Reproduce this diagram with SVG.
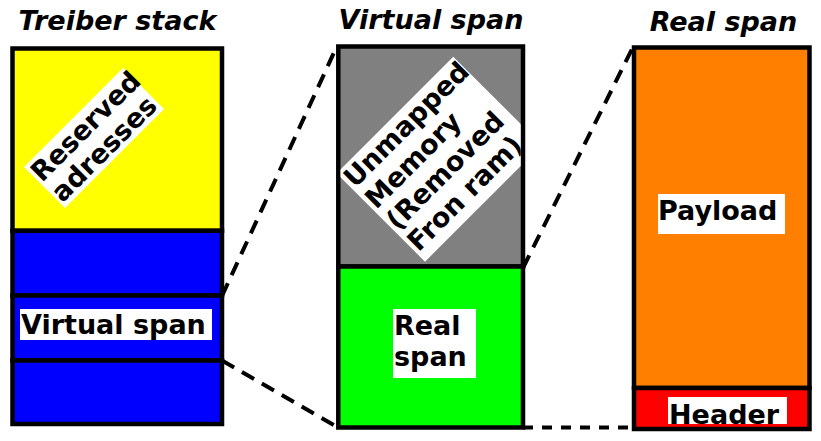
<svg xmlns="http://www.w3.org/2000/svg" width="821" height="441" viewBox="0 0 821 441">
  <style>
    .box { stroke: #000; stroke-width: 4.5; }
    .title { font-family: "DejaVu Sans", sans-serif; font-weight: bold; font-style: oblique; font-size: 27px; fill: #000; text-anchor: middle; }
    .lbl { font-family: "DejaVu Sans", sans-serif; font-weight: bold; font-size: 27px; fill: #000; }
    .bg { fill: #fff; }
    .dash { fill: none; stroke: #000; stroke-width: 4; stroke-dasharray: 14 9; }
    .dash-h { fill: none; stroke: #000; stroke-width: 4; stroke-dasharray: 10 9; }
  </style>
  <defs>
    <clipPath id="clipGray">
      <rect x="340.5" y="48.7" width="180.2" height="215.6"/>
    </clipPath>
  </defs>
  <rect width="821" height="441" fill="#fff"/>

  <g id="titles">
    <text class="title" x="117.5" y="30">Treiber stack</text>
    <text class="title" x="431" y="29">Virtual span</text>
    <text class="title" x="723.5" y="31">Real span</text>
  </g>

  <g id="treiber-stack">
    <rect class="box" x="12.5" y="48.5" width="209.5" height="182.3" fill="#ffff00"/>
    <rect class="box" x="12.5" y="230.8" width="209.5" height="64.7" fill="#0000ff"/>
    <rect class="box" x="12.5" y="295.5" width="209.5" height="65" fill="#0000ff"/>
    <rect class="box" x="12.5" y="360.5" width="209.5" height="63.5" fill="#0000ff"/>
    <g id="reserved-label" transform="translate(24,167) rotate(-45)">
      <rect class="bg" x="0" y="0" width="140" height="58"/>
      <text class="lbl" x="1.5" y="24">Reserved</text>
      <text class="lbl" x="1.5" y="53">adresses</text>
    </g>
    <g id="virtual-span-entry">
      <rect class="bg" x="20" y="309" width="192" height="31"/>
      <text class="lbl" x="21" y="334">Virtual span</text>
    </g>
  </g>

  <g id="virtual-span">
    <rect class="box" x="338.3" y="46.5" width="184.7" height="220" fill="#808080"/>
    <rect class="box" x="338.3" y="266.5" width="184.7" height="161" fill="#00ff00"/>
    <g clip-path="url(#clipGray)">
      <g id="unmapped-label" transform="translate(336.6,173.3) rotate(-45)">
        <rect class="bg" x="0" y="0" width="165" height="125"/>
        <text class="lbl" x="2" y="24">Unmapped</text>
        <text class="lbl" x="2" y="54">Memory</text>
        <text class="lbl" x="2" y="84">(Removed</text>
        <text class="lbl" x="2" y="114">Fron ram)</text>
      </g>
    </g>
    <g id="real-span-entry">
      <rect class="bg" x="393" y="309" width="83" height="69"/>
      <text class="lbl" x="394" y="335">Real</text>
      <text class="lbl" x="394" y="366">span</text>
    </g>
  </g>

  <g id="real-span">
    <rect class="box" x="634" y="47.5" width="175.5" height="340.5" fill="#ff8000"/>
    <rect class="box" x="634" y="388" width="175.5" height="41" fill="#ff0000"/>
    <g id="payload-label">
      <rect class="bg" x="658" y="194" width="127" height="40"/>
      <text class="lbl" x="658" y="220">Payload</text>
    </g>
    <g id="header-label">
      <rect class="bg" x="668" y="397" width="119" height="27"/>
      <text class="lbl" x="669" y="423.5">Header</text>
    </g>
  </g>

  <g id="connectors">
    <line class="dash" x1="222" y1="296" x2="337" y2="46"/>
    <line class="dash" x1="222" y1="360.5" x2="338" y2="427.5"/>
    <line class="dash" x1="523" y1="268" x2="633" y2="47"/>
    <line class="dash-h" x1="523" y1="427.5" x2="634" y2="427.5"/>
  </g>
</svg>
